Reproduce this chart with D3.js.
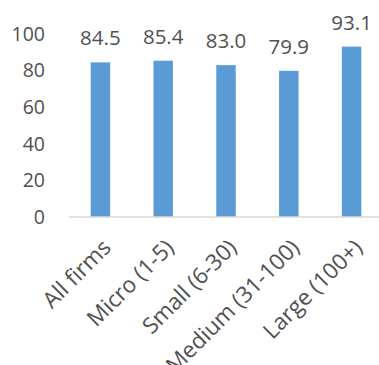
<!DOCTYPE html>
<html>
<head>
<meta charset="utf-8">
<script src="https://cdn.jsdelivr.net/npm/d3@7"></script>
<style>
  html, body { margin: 0; padding: 0; background: #fff; }
  svg { display: block; }
  text { font-family: "Open Sans", "Noto Sans", sans-serif; fill: #505050; }
</style>
</head>
<body>
<svg id="chart" width="379" height="365"></svg>
<script>
// Share of firms by size class
const categories = ["All firms", "Micro (1-5)", "Small (6-30)", "Medium (31-100)", "Large (100+)"];
const values = [84.5, 85.4, 83.0, 79.9, 93.1];
const yTicks = [0, 20, 40, 60, 80, 100];

const svg = d3.select("#chart");
const plot = { left: 69, right: 383, top: 34, bottom: 217 };
const fontFamily = "Open Sans";
const textColor = "#505050";

const x = d3.scaleBand()
  .domain(categories)
  .range([plot.left, plot.right])
  .paddingInner(0.69)
  .paddingOuter(0.345);

const y = d3.scaleLinear()
  .domain([0, 100])
  .range([plot.bottom, plot.top]);

// y-axis labels (no axis line, no gridlines)
const yAxis = d3.axisLeft(y).tickValues(yTicks).tickSize(0).tickPadding(0);
svg.append("g")
  .attr("transform", "translate(45,0)")
  .call(yAxis)
  .call(g => g.select(".domain").remove())
  .call(g => g.selectAll("text")
    .attr("font-size", 19.5)
    .attr("font-family", fontFamily)
    .attr("fill", textColor));

// bars
svg.append("g")
  .selectAll("rect")
  .data(values)
  .join("rect")
  .attr("x", (d, i) => x(categories[i]))
  .attr("width", x.bandwidth())
  .attr("y", d => y(d))
  .attr("height", d => y(0) - y(d))
  .attr("fill", "#5B9BD5");

// value labels above each bar
svg.append("g")
  .selectAll("text")
  .data(values)
  .join("text")
  .attr("x", (d, i) => x(categories[i]) + x.bandwidth() / 2)
  .attr("y", d => y(d) - 17)
  .attr("text-anchor", "middle")
  .attr("font-size", 20.5)
  .text(d => d.toFixed(1));

// x-axis baseline and rotated category labels
const xAxis = d3.axisBottom(x).tickSize(0).tickPadding(0);
svg.append("g")
  .attr("transform", `translate(0,${plot.bottom})`)
  .call(xAxis)
  .call(g => g.select(".domain")
    .attr("stroke", "#D9D9D9")
    .attr("stroke-width", 1.5)
    .attr("d", `M${plot.left},0H${plot.right}`))
  .call(g => g.selectAll(".tick text")
    .attr("font-size", 22.5)
    .attr("font-family", fontFamily)
    .attr("fill", textColor)
    .attr("text-anchor", "end")
    .attr("dy", null)
    .attr("y", null)
    .attr("transform", "translate(12,32) rotate(-45)"));
</script>
</body>
</html>
